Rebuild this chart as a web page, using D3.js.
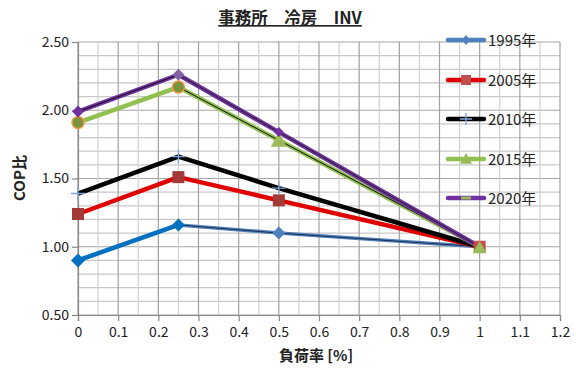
<!DOCTYPE html>
<html><head><meta charset="utf-8">
<script src="https://cdn.jsdelivr.net/npm/d3@7"></script>
<style>body{margin:0;background:#fff}svg{display:block}</style>
</head><body><svg id="c" width="576" height="371"></svg>
<script>
const xValues = [0, 0.25, 0.5, 1];
const seriesNames = ["1995年", "2005年", "2010年", "2015年", "2020年"];
const v1995 = [0.90, 1.16, 1.10, 1.00];
const v2005 = [1.24, 1.51, 1.34, 1.00];
const v2010 = [1.39, 1.66, 1.43, 1.00];
const v2015 = [1.91, 2.17, 1.78, 1.00];
const v2020 = [1.99, 2.26, 1.84, 1.00];
const xTicks = [0,0.1,0.2,0.3,0.4,0.5,0.6,0.7,0.8,0.9,1,1.1,1.2];
const yTicks = [0.5,1.0,1.5,2.0,2.5];

const svg = d3.select("#c");
const font = "'Noto Sans CJK JP','Liberation Sans',sans-serif";
const x = d3.scaleLinear().domain([0,1.2]).range([78,560]);
const y = d3.scaleLinear().domain([0.5,2.5]).range([315,42]);

// grid
const g = svg.append("g");
for (let i=0;i<=20;i++){
  const v = 0.5 + i*0.1;
  g.append("line").attr("x1",x(0)).attr("x2",x(1.2)).attr("y1",y(v)).attr("y2",y(v))
   .attr("stroke", i%5===0 ? "#a6a6a6" : "#c8c8c8").attr("stroke-width",1.2);
}
for (let i=0;i<=24;i++){
  const v = i*0.05;
  g.append("line").attr("x1",x(v)).attr("x2",x(v)).attr("y1",y(0.5)).attr("y2",y(2.5))
   .attr("stroke", i%2===0 ? "#a0a0a0" : "#d0d0d0").attr("stroke-width",1.2);
}

// axes
const yAxis = d3.axisLeft(y).tickValues(yTicks).tickFormat(d3.format(".2f")).tickSize(6).tickPadding(3);
const ya = svg.append("g").attr("transform",`translate(${x(0)},0)`).call(yAxis);
const xAxis = d3.axisBottom(x).tickValues(xTicks).tickFormat(d=>d3.format("")(+d.toFixed(1))).tickSize(6).tickPadding(6);
const xa = svg.append("g").attr("transform",`translate(0,${y(0.5)})`).call(xAxis);
[ya,xa].forEach(a=>{
  a.select(".domain").attr("stroke","#888").attr("stroke-width",1.2);
  a.selectAll(".tick line").attr("stroke","#888").attr("stroke-width",1.2);
  a.selectAll("text").attr("font-family",font).attr("font-size",14).attr("fill","#222");
});

const colors = ["#0070C0","#E00000","#000000","#92C050","#7030A0"];
const line = d3.line().x((d,i)=>x(xValues[i])).y(d=>y(d));

function seg(vals,i0,i1,color,w){
  svg.append("line").attr("x1",x(xValues[i0])).attr("y1",y(vals[i0]))
    .attr("x2",x(xValues[i1])).attr("y2",y(vals[i1])).attr("stroke",color)
    .attr("stroke-width",w).attr("stroke-linecap","round");
}
seg(v1995,0,1,"#0070C0",4.5);
seg(v1995,1,2,"#4F81BD",3.5); seg(v1995,2,3,"#4F81BD",3.5);
seg(v1995,1,2,"#1f2f4f",1); seg(v1995,2,3,"#1f2f4f",1);
svg.append("path").datum(v2005).attr("d",line).attr("fill","none").attr("stroke","#E00000").attr("stroke-width",4.5).attr("stroke-linejoin","round");
svg.append("path").datum(v2010).attr("d",line).attr("fill","none").attr("stroke","#000").attr("stroke-width",4.5).attr("stroke-linejoin","round");
svg.append("path").datum(v2015).attr("d",line).attr("fill","none").attr("stroke","#92C050").attr("stroke-width",4.5).attr("stroke-linejoin","round");
seg(v2015,1,2,"#111",1); seg(v2015,2,3,"#111",1);
svg.append("path").datum(v2020).attr("d",line).attr("fill","none").attr("stroke","#7030A0").attr("stroke-width",4.5).attr("stroke-linejoin","round");
seg(v2020,0,1,"#111",1); seg(v2020,1,2,"#222",1); seg(v2020,2,3,"#222",1);

function diamond(cx,cy,r,fill){
  svg.append("path").attr("d",`M${cx},${cy-r}L${cx+r},${cy}L${cx},${cy+r}L${cx-r},${cy}Z`).attr("fill",fill);
}
function square(cx,cy,s,fill){
  svg.append("rect").attr("x",cx-s/2).attr("y",cy-s/2).attr("width",s).attr("height",s).attr("fill",fill);
}
function tri(cx,cy,r,fill){
  svg.append("path").attr("d",`M${cx},${cy-r}L${cx+r},${cy+r*0.8}L${cx-r},${cy+r*0.8}Z`).attr("fill",fill);
}
function plus(cx,cy,r,col){
  svg.append("path").attr("d",`M${cx-r},${cy}H${cx+r}M${cx},${cy-r}V${cy+r}`).attr("stroke",col).attr("stroke-width",1.3);
}
// 1995
diamond(x(0),y(v1995[0]),7,"#0070C0");
diamond(x(0.25),y(v1995[1]),6.5,"#0070C0");
diamond(x(0.5),y(v1995[2]),6.5,"#4F81BD");
// 2005
v2005.forEach((v,i)=>{ if(i<3) square(x(xValues[i]),y(v),12,"#A33A36"); });
square(x(1),y(v2005[3]),12,"#C0504D");
// 2010
v2010.forEach((v,i)=>{ if(i<3) plus(x(xValues[i]),y(v),7,"#7FA6D8"); });
// 2015
svg.append("circle").attr("cx",x(0)).attr("cy",y(v2015[0])).attr("r",6).attr("fill","#77933C").attr("stroke","#F79646").attr("stroke-width",1.5);
svg.append("circle").attr("cx",x(0.25)).attr("cy",y(v2015[1])).attr("r",6).attr("fill","#77933C").attr("stroke","#F79646").attr("stroke-width",1.5);
tri(x(0.5),y(v2015[2]),8,"#9BBB59");
tri(x(1),y(v2015[3])+1,7,"#9BBB59");
// 2020
diamond(x(0),y(v2020[0]),6,"#7030A0");
diamond(x(0.25),y(v2020[1]),6,"#8064A2");
diamond(x(0.5),y(v2020[2]),5,"#7030A0");

// legend
const legY = [40,80,119,159,198];
const lg = svg.append("g");
seriesNames.forEach((n,i)=>{
  const yy = legY[i];
  const lc = i===0 ? "#4F81BD" : colors[i];
  lg.append("line").attr("x1",448).attr("x2",484).attr("y1",yy).attr("y2",yy).attr("stroke",lc).attr("stroke-width",4.5).attr("stroke-linecap","round");
  const cx = 466;
  if(i===0){ svg.append("path").attr("d",`M${cx},${yy-5}L${cx+4},${yy}L${cx},${yy+5}L${cx-4},${yy}Z`).attr("fill","#4F81BD"); }
  if(i===1) square(cx,yy,10,"#C0504D");
  if(i===2) plus(cx,yy,6,"#7FA6D8");
  if(i===3) tri(cx,yy,6,"#9BBB59");
  if(i===4) svg.append("rect").attr("x",cx-5).attr("y",yy-1.5).attr("width",10).attr("height",3).attr("fill","#9BBB59");
  lg.append("text").attr("x",488).attr("y",yy+5.5).text(n).attr("font-family",font).attr("font-size",15).attr("fill","#222");
});

// titles
svg.append("text").attr("x",290).attr("y",24).attr("text-anchor","middle")
  .attr("font-family",font).attr("font-size",16.5).attr("font-weight","bold").attr("fill","#222")
  .attr("text-decoration","underline").text("事務所\u3000冷房\u3000INV");
svg.append("text").attr("transform","translate(25,178) rotate(-90)").attr("text-anchor","middle")
  .attr("font-family",font).attr("font-size",15).attr("font-weight","bold").attr("fill","#222").text("COP比");
svg.append("text").attr("x",316).attr("y",361).attr("text-anchor","middle")
  .attr("font-family",font).attr("font-size",15).attr("font-weight","bold").attr("fill","#222").text("負荷率 [%]");
</script></body></html>
